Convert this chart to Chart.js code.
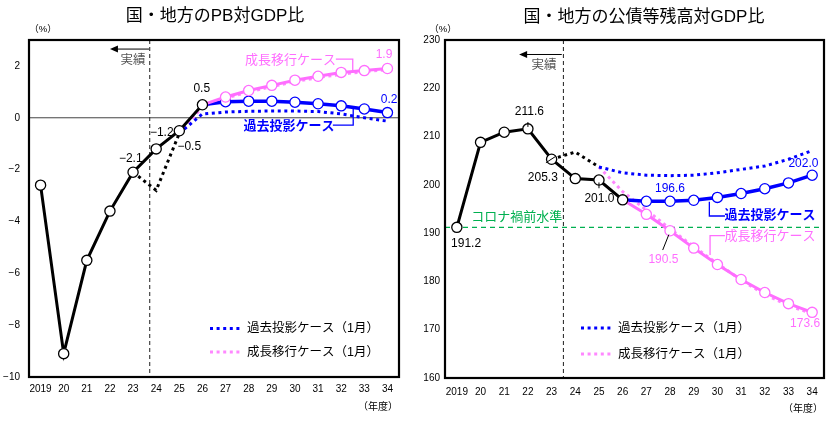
<!DOCTYPE html>
<html><head><meta charset="utf-8">
<script src="https://cdn.jsdelivr.net/npm/chart.js@4.4.1/dist/chart.umd.min.js"></script>
<style>
html,body{margin:0;padding:0;background:#fff;}
#wrap{position:relative;width:840px;height:425px;overflow:hidden;}
canvas{position:absolute;top:0;}
#c1{left:0;} #c2{left:420px;}
</style></head><body>
<div id="wrap"><canvas id="c1" width="420" height="425"></canvas><canvas id="c2" width="420" height="425"></canvas></div>
<script>
// ---------- data ----------
const years = ['2019','20','21','22','23','24','25','26','27','28','29','30','31','32','33','34'];
const _ = null;
// PB to GDP (%)
const pbActual    = [-2.6,-9.1,-5.5,-3.6,-2.1,-1.2,-0.5,0.5,_,_,_,_,_,_,_,_];
const pbPast      = [_,_,_,_,_,_,_,0.5,0.62,0.64,0.64,0.6,0.54,0.46,0.34,0.2];
const pbGrowth    = [_,_,_,_,_,_,_,0.5,0.8,1.05,1.25,1.45,1.6,1.75,1.82,1.9];
const pbPrevAct   = [_,_,_,_,-2.1,-2.8,-0.6,_,_,_,_,_,_,_,_,_];
const pbPastJan   = [_,_,_,_,_,_,-0.6,0.15,0.22,0.25,0.26,0.26,0.24,0.15,0.0,-0.13];
const pbGrowthJan = [_,_,_,_,_,_,-0.6,0.42,0.76,1.0,1.2,1.4,1.55,1.68,1.78,1.86];
const pbTicks = [-10,-8,-6,-4,-2,0,2];
// Debt to GDP (%)
const dbActual    = [191.2,208.8,210.9,211.6,205.3,201.3,201.0,196.9,_,_,_,_,_,_,_,_];
const dbPast      = [_,_,_,_,_,_,_,196.9,196.6,196.6,196.8,197.4,198.2,199.2,200.4,202.0];
const dbGrowth    = [_,_,_,_,_,_,_,196.9,193.9,190.5,186.9,183.5,180.4,177.7,175.4,173.6];
const dbPrevAct   = [_,_,_,_,205.3,206.8,203.7,_,_,_,_,_,_,_,_,_];
const dbPastJan   = [_,_,_,_,_,_,203.7,202.5,202.0,201.9,202.0,202.5,203.2,203.9,205.3,207.1];
const dbGrowthJan = [_,_,_,_,_,_,203.7,198.6,194.8,190.9,187.2,183.7,180.3,177.3,175.0,173.3];
const dbPreCovid  = 191.2;
const dbTicks = [160,170,180,190,200,210,220,230];

// ---------- styles ----------
const FF = "'Liberation Sans','Noto Sans CJK JP',sans-serif";
const BLUE = '#0000FF', PINK = '#FF6EFF', PINKD = '#FF88FF', GREEN = '#00B050';
const fmt = v => v < 0 ? '\u2212' + Math.abs(v) : String(v);

function solid(data, color, w, showFrom){
  return { data, borderColor: color, borderWidth: w, tension: 0, spanGaps: false,
    pointRadius: data.map((v,i)=> v===null ? 0 : (i < showFrom ? 0 : 5.1)),
    pointBackgroundColor: '#fff', pointBorderColor: color, pointBorderWidth: 1.3, pointHoverRadius: 0 };
}
function dotted(data, color){
  return { data, borderColor: color, borderWidth: 3, borderDash: [3,3.6], tension: 0, pointRadius: 0, spanGaps: false };
}

function deco(cfg){
  return {
    id: 'deco',
    beforeDatasetsDraw(chart){
      const {ctx, chartArea: a, scales: {x, y}} = chart;
      ctx.save();
      cfg.hlines.forEach(h => {
        const yy = y.getPixelForValue(h.v);
        ctx.beginPath(); ctx.setLineDash(h.dash || []); ctx.strokeStyle = h.color; ctx.lineWidth = h.width;
        ctx.moveTo(a.left, yy); ctx.lineTo(a.right, yy); ctx.stroke();
      });
      const vx = x.getPixelForValue(cfg.vline);
      ctx.beginPath(); ctx.setLineDash([4,3]); ctx.strokeStyle = '#333'; ctx.lineWidth = 1.1;
      ctx.moveTo(vx, a.top); ctx.lineTo(vx, a.bottom); ctx.stroke();
      ctx.restore();
    },
    afterDraw(chart){
      const {ctx, chartArea: a, scales: {x, y}} = chart;
      const px = i => x.getPixelForValue(i), py = v => y.getPixelForValue(v);
      ctx.save();
      // frame
      ctx.setLineDash([]); ctx.strokeStyle = '#000'; ctx.lineWidth = 2.2;
      ctx.strokeRect(a.left, a.top, a.right - a.left, a.bottom - a.top);
      // leader lines
      cfg.lines.forEach(l => {
        ctx.beginPath(); ctx.strokeStyle = l.color; ctx.lineWidth = l.width || 1.2;
        l.pts.forEach((p, k) => { const X = px(p[0]), Y = py(p[1]); k ? ctx.lineTo(X, Y) : ctx.moveTo(X, Y); });
        ctx.stroke();
      });
      // arrow (実績)
      const ar = cfg.arrow;
      const ay = py(ar.v), ax1 = px(ar.from), ax2 = px(ar.to);
      ctx.beginPath(); ctx.strokeStyle = '#000'; ctx.lineWidth = 1;
      ctx.moveTo(ax1, ay); ctx.lineTo(ax2 + 6, ay); ctx.stroke();
      ctx.beginPath(); ctx.fillStyle = '#000';
      ctx.moveTo(ax2, ay); ctx.lineTo(ax2 + 8, ay - 3.5); ctx.lineTo(ax2 + 8, ay + 3.5); ctx.closePath(); ctx.fill();
      // data-anchored texts
      ctx.textBaseline = 'middle';
      cfg.texts.forEach(t => {
        ctx.font = (t.weight || 'normal') + ' ' + t.size + 'px ' + FF;
        ctx.fillStyle = t.color; ctx.textAlign = t.align || 'center';
        ctx.fillText(t.t, px(t.x), py(t.y));
      });
      // fixed texts (titles, units)
      cfg.fixed.forEach(t => {
        ctx.font = t.size + 'px ' + FF; ctx.fillStyle = t.color || '#000'; ctx.textAlign = t.align || 'center';
        ctx.fillText(t.t, t.x, t.y);
      });
      // legend
      cfg.legend.forEach(l => {
        ctx.beginPath(); ctx.setLineDash([3,3.6]); ctx.strokeStyle = l.color; ctx.lineWidth = 3;
        ctx.moveTo(l.x, l.y); ctx.lineTo(l.x + 30, l.y); ctx.stroke(); ctx.setLineDash([]);
        ctx.font = '12.5px ' + FF; ctx.fillStyle = '#000'; ctx.textAlign = 'left';
        ctx.fillText(l.t, l.x + 37, l.y + 0.5);
      });
      ctx.restore();
    }
  };
}

function makeChart(id, sets, yMin, yMax, yStep, ticksList, geo, cfg){
  return new Chart(document.getElementById(id), {
    type: 'line',
    data: { labels: years, datasets: sets },
    options: {
      responsive: false, animation: false, devicePixelRatio: 1,
      layout: { padding: { left: 0, right: geo.padR, top: geo.top, bottom: 0 } },
      plugins: { legend: { display: false }, tooltip: { enabled: false } },
      events: [],
      scales: {
        x: { type: 'category', offset: true,
             grid: { display: false, drawTicks: false }, border: { display: false },
             ticks: { font: { family: FF, size: 10 }, color: '#000', padding: geo.xPad, maxRotation: 0, autoSkip: false },
             afterFit: s => { s.height = geo.xH; } },
        y: { min: yMin, max: yMax,
             grid: { display: false, drawTicks: false }, border: { display: false },
             afterBuildTicks: s => { s.ticks = ticksList.map(v => ({ value: v })); },
             ticks: { stepSize: yStep, includeBounds: false, font: { family: FF, size: 10 }, color: '#000', padding: geo.yPad,
                      callback: v => fmt(v) },
             afterFit: s => { s.width = geo.yW; } }
      }
    },
    plugins: [deco(cfg)]
  });
}

// ---------- left chart ----------
makeChart('c1', [
  solid(pbActual, '#000', 3, 0),
  solid(pbGrowth, PINK, 3, 8),
  solid(pbPast, BLUE, 3.5, 8),
  dotted(pbPrevAct, '#000'),
  dotted(pbPastJan, BLUE),
  dotted(pbGrowthJan, PINKD)
], -10, 3, 2, pbTicks, { padR: 21, top: 40, xH: 48, yW: 29, xPad: 6, yPad: 9 }, {
  hlines: [{ v: 0, color: '#444', width: 1 }],
  vline: 4.72,
  arrow: { from: 4.69, to: 3.0, v: 2.65 },
  lines: [
    { pts: [[12.77, 2.26], [13.5, 2.26], [13.5, 1.84]], color: PINK, width: 1.3 },
    { pts: [[12.64, -0.28], [13.52, -0.28], [13.52, 0.45]], color: BLUE, width: 1.3 }
  ],
  texts: [
    { t: '実績', x: 4.0, y: 2.19, color: '#555', size: 12.5 },
    { t: '成長移行ケース', x: 10.81, y: 2.23, color: PINK, size: 13 },
    { t: '過去投影ケース', x: 10.74, y: -0.35, color: BLUE, size: 13, weight: 'bold' },
    { t: '1.9', x: 14.85, y: 2.42, color: PINK, size: 12 },
    { t: '0.2', x: 15.07, y: 0.69, color: BLUE, size: 12 },
    { t: '0.5', x: 6.97, y: 1.14, color: '#000', size: 12 },
    { t: '\u22121.2', x: 5.24, y: -0.57, color: '#000', size: 12 },
    { t: '\u22122.1', x: 3.9, y: -1.56, color: '#000', size: 12 },
    { t: '\u22120.5', x: 6.43, y: -1.11, color: '#000', size: 12 }
  ],
  fixed: [
    { t: '国・地方のPB対GDP比', x: 215, y: 16, size: 17 },
    { t: '（%）', x: 43, y: 29, size: 9.5 },
    { t: '（年度）', x: 378, y: 407, size: 10 }
  ],
  legend: [
    { t: '過去投影ケース（1月）', x: 210, y: 328.5, color: BLUE },
    { t: '成長移行ケース（1月）', x: 210, y: 352, color: PINKD }
  ]
});

// ---------- right chart ----------
makeChart('c2', [
  solid(dbActual, '#000', 3, 0),
  solid(dbGrowth, PINK, 3, 8),
  solid(dbPast, BLUE, 3.5, 8),
  dotted(dbPrevAct, '#000'),
  dotted(dbPastJan, BLUE),
  dotted(dbGrowthJan, PINKD)
], 160, 230, 10, dbTicks, { padR: 16, top: 40, xH: 47, yW: 25, xPad: 8, yPad: 5 }, {
  hlines: [{ v: dbPreCovid, color: GREEN, width: 1.4, dash: [5,4] }],
  vline: 4.5,
  arrow: { from: 4.43, to: 2.63, v: 227.0 },
  lines: [
    { pts: [[3.0, 213.0], [3.0, 212.0]], color: '#000', width: 1 },
    { pts: [[3.76, 204.58], [4.15, 205.83]], color: '#000', width: 1 },
    { pts: [[6.0, 200.5], [6.0, 199.3]], color: '#000', width: 1 },
    { pts: [[8.69, 186.5], [8.95, 189.7]], color: '#000', width: 1 },
    { pts: [[10.66, 196.5], [10.66, 193.55], [11.32, 193.55]], color: BLUE, width: 1.3 },
    { pts: [[11.32, 189.47], [10.69, 189.47], [10.69, 185.47]], color: PINK, width: 1.3 }
  ],
  texts: [
    { t: '実績', x: 3.68, y: 224.67, color: '#555', size: 12.5 },
    { t: '211.6', x: 3.06, y: 215.15, color: '#000', size: 12 },
    { t: '205.3', x: 3.63, y: 201.56, color: '#000', size: 12 },
    { t: '201.0', x: 6.02, y: 197.2, color: '#000', size: 12 },
    { t: '191.2', x: 0.39, y: 187.9, color: '#000', size: 12 },
    { t: 'コロナ禍前水準', x: 2.53, y: 193.2, color: GREEN, size: 13 },
    { t: '196.6', x: 9.0, y: 199.28, color: BLUE, size: 12 },
    { t: '202.0', x: 14.63, y: 204.46, color: BLUE, size: 12 },
    { t: '過去投影ケース', x: 13.22, y: 193.75, color: BLUE, size: 13, weight: 'bold' },
    { t: '成長移行ケース', x: 13.22, y: 189.26, color: PINK, size: 13 },
    { t: '190.5', x: 8.72, y: 184.43, color: PINK, size: 12 },
    { t: '173.6', x: 14.7, y: 171.33, color: PINK, size: 12 }
  ],
  fixed: [
    { t: '国・地方の公債等残高対GDP比', x: 224, y: 17, size: 17 },
    { t: '（%）', x: 23, y: 29, size: 9.5 },
    { t: '（年度）', x: 383, y: 409, size: 10 }
  ],
  legend: [
    { t: '過去投影ケース（1月）', x: 161, y: 328, color: BLUE },
    { t: '成長移行ケース（1月）', x: 161, y: 354, color: PINKD }
  ]
});
</script>
</body></html>
